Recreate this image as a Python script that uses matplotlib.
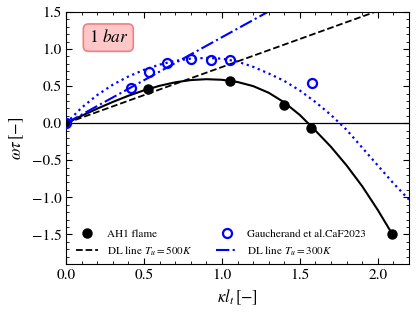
import matplotlib
matplotlib.use("Agg")
import matplotlib.pyplot as plt
from matplotlib.ticker import MultipleLocator

plt.rcParams["font.family"] = ["STIXGeneral", "DejaVu Serif"]
plt.rcParams["mathtext.fontset"] = "stix"

# AH1 flame (black filled points)
ah1_k = [0.0, 0.525, 1.05, 1.40, 1.57, 2.09]
ah1_w = [0.0, 0.46, 0.575, 0.245, -0.06, -1.50]

# fitted trend through AH1 points
ah1_fit_k = [0.0, 0.1, 0.2, 0.3, 0.4, 0.5, 0.6, 0.7, 0.8, 0.9, 1.0, 1.1,
             1.2, 1.3, 1.4, 1.5, 1.6, 1.7, 1.8, 1.9, 2.0, 2.1]
ah1_fit_w = [0.0, 0.10, 0.196, 0.287, 0.37, 0.443, 0.504, 0.551, 0.581, 0.593,
             0.585, 0.555, 0.50, 0.41, 0.28, 0.11, -0.10, -0.32, -0.57, -0.85,
             -1.17, -1.52]

# Gaucherand et al. (blue open circles)
gau_k = [0.0, 0.415, 0.53, 0.65, 0.80, 0.93, 1.05, 1.58]
gau_w = [0.0, 0.47, 0.69, 0.81, 0.87, 0.855, 0.855, 0.545]

# trend through the Gaucherand points
gau_fit_k = [0.0, 0.1, 0.2, 0.3, 0.4, 0.5, 0.6, 0.7, 0.8, 0.9, 1.0, 1.1,
             1.2, 1.3, 1.4, 1.5, 1.6, 1.7, 1.8, 1.9, 2.0, 2.1, 2.2]
gau_fit_w = [0.0, 0.21, 0.38, 0.52, 0.63, 0.72, 0.79, 0.84, 0.87, 0.88, 0.87,
             0.83, 0.76, 0.67, 0.57, 0.44, 0.285, 0.11, -0.09, -0.33, -0.57,
             -0.81, -1.03]

# Darrieus-Landau lines
dl_k = [0.0, 2.2]
dl_500 = [0.0, 1.665]
dl_300 = [0.0, 2.55]

fig = plt.figure(figsize=(4.16, 3.14), dpi=100)
ax = fig.add_axes([0.159, 0.159, 0.824, 0.803])

ax.axhline(0.0, color="black", lw=0.9)
ax.plot(ah1_k, ah1_w, "o", color="black", ms=6.5, label="AH1 flame", zorder=5)
ax.plot(ah1_fit_k, ah1_fit_w, "-", color="black", lw=1.5)
ax.plot(dl_k, dl_500, "--", color="black", lw=1.3, label=r"DL line $T_u=500K$")
ax.plot(gau_k, gau_w, "o", mfc="none", mec="blue", mew=1.6, ms=6.5,
        label="Gaucherand et al.CaF2023", zorder=5)
ax.plot(gau_fit_k, gau_fit_w, ":", color="blue", lw=1.6)
ax.plot(dl_k, dl_300, "-.", color="blue", lw=1.5, label=r"DL line $T_u=300K$")

ax.set_xlim(0, 2.2)
ax.set_ylim(-1.9, 1.5)
ax.xaxis.set_major_locator(MultipleLocator(0.5))
ax.xaxis.set_minor_locator(MultipleLocator(0.1))
ax.yaxis.set_major_locator(MultipleLocator(0.5))
ax.yaxis.set_minor_locator(MultipleLocator(0.1))
ax.tick_params(which="both", direction="in", top=True, right=True, labelsize=11)
ax.tick_params(which="major", length=4)
ax.tick_params(which="minor", length=2)

ax.set_xlabel(r"$\kappa l_t\,[-]$", fontsize=12)
ax.set_ylabel(r"$\omega\tau\,[-]$", fontsize=12)

ax.text(0.123, 0.898, r"1 $bar$", transform=ax.transAxes, fontsize=12.5,
        ha="center", va="center",
        bbox=dict(boxstyle="round,pad=0.3", facecolor=(1.0, 0.78, 0.78),
                  edgecolor=(0.95, 0.5, 0.5), lw=1.2))

ax.legend(ncol=2, loc="lower left", frameon=False, fontsize=8,
          bbox_to_anchor=(0.0, -0.015), columnspacing=2.1, handlelength=2.0)

fig.savefig("out.png", dpi=100)
